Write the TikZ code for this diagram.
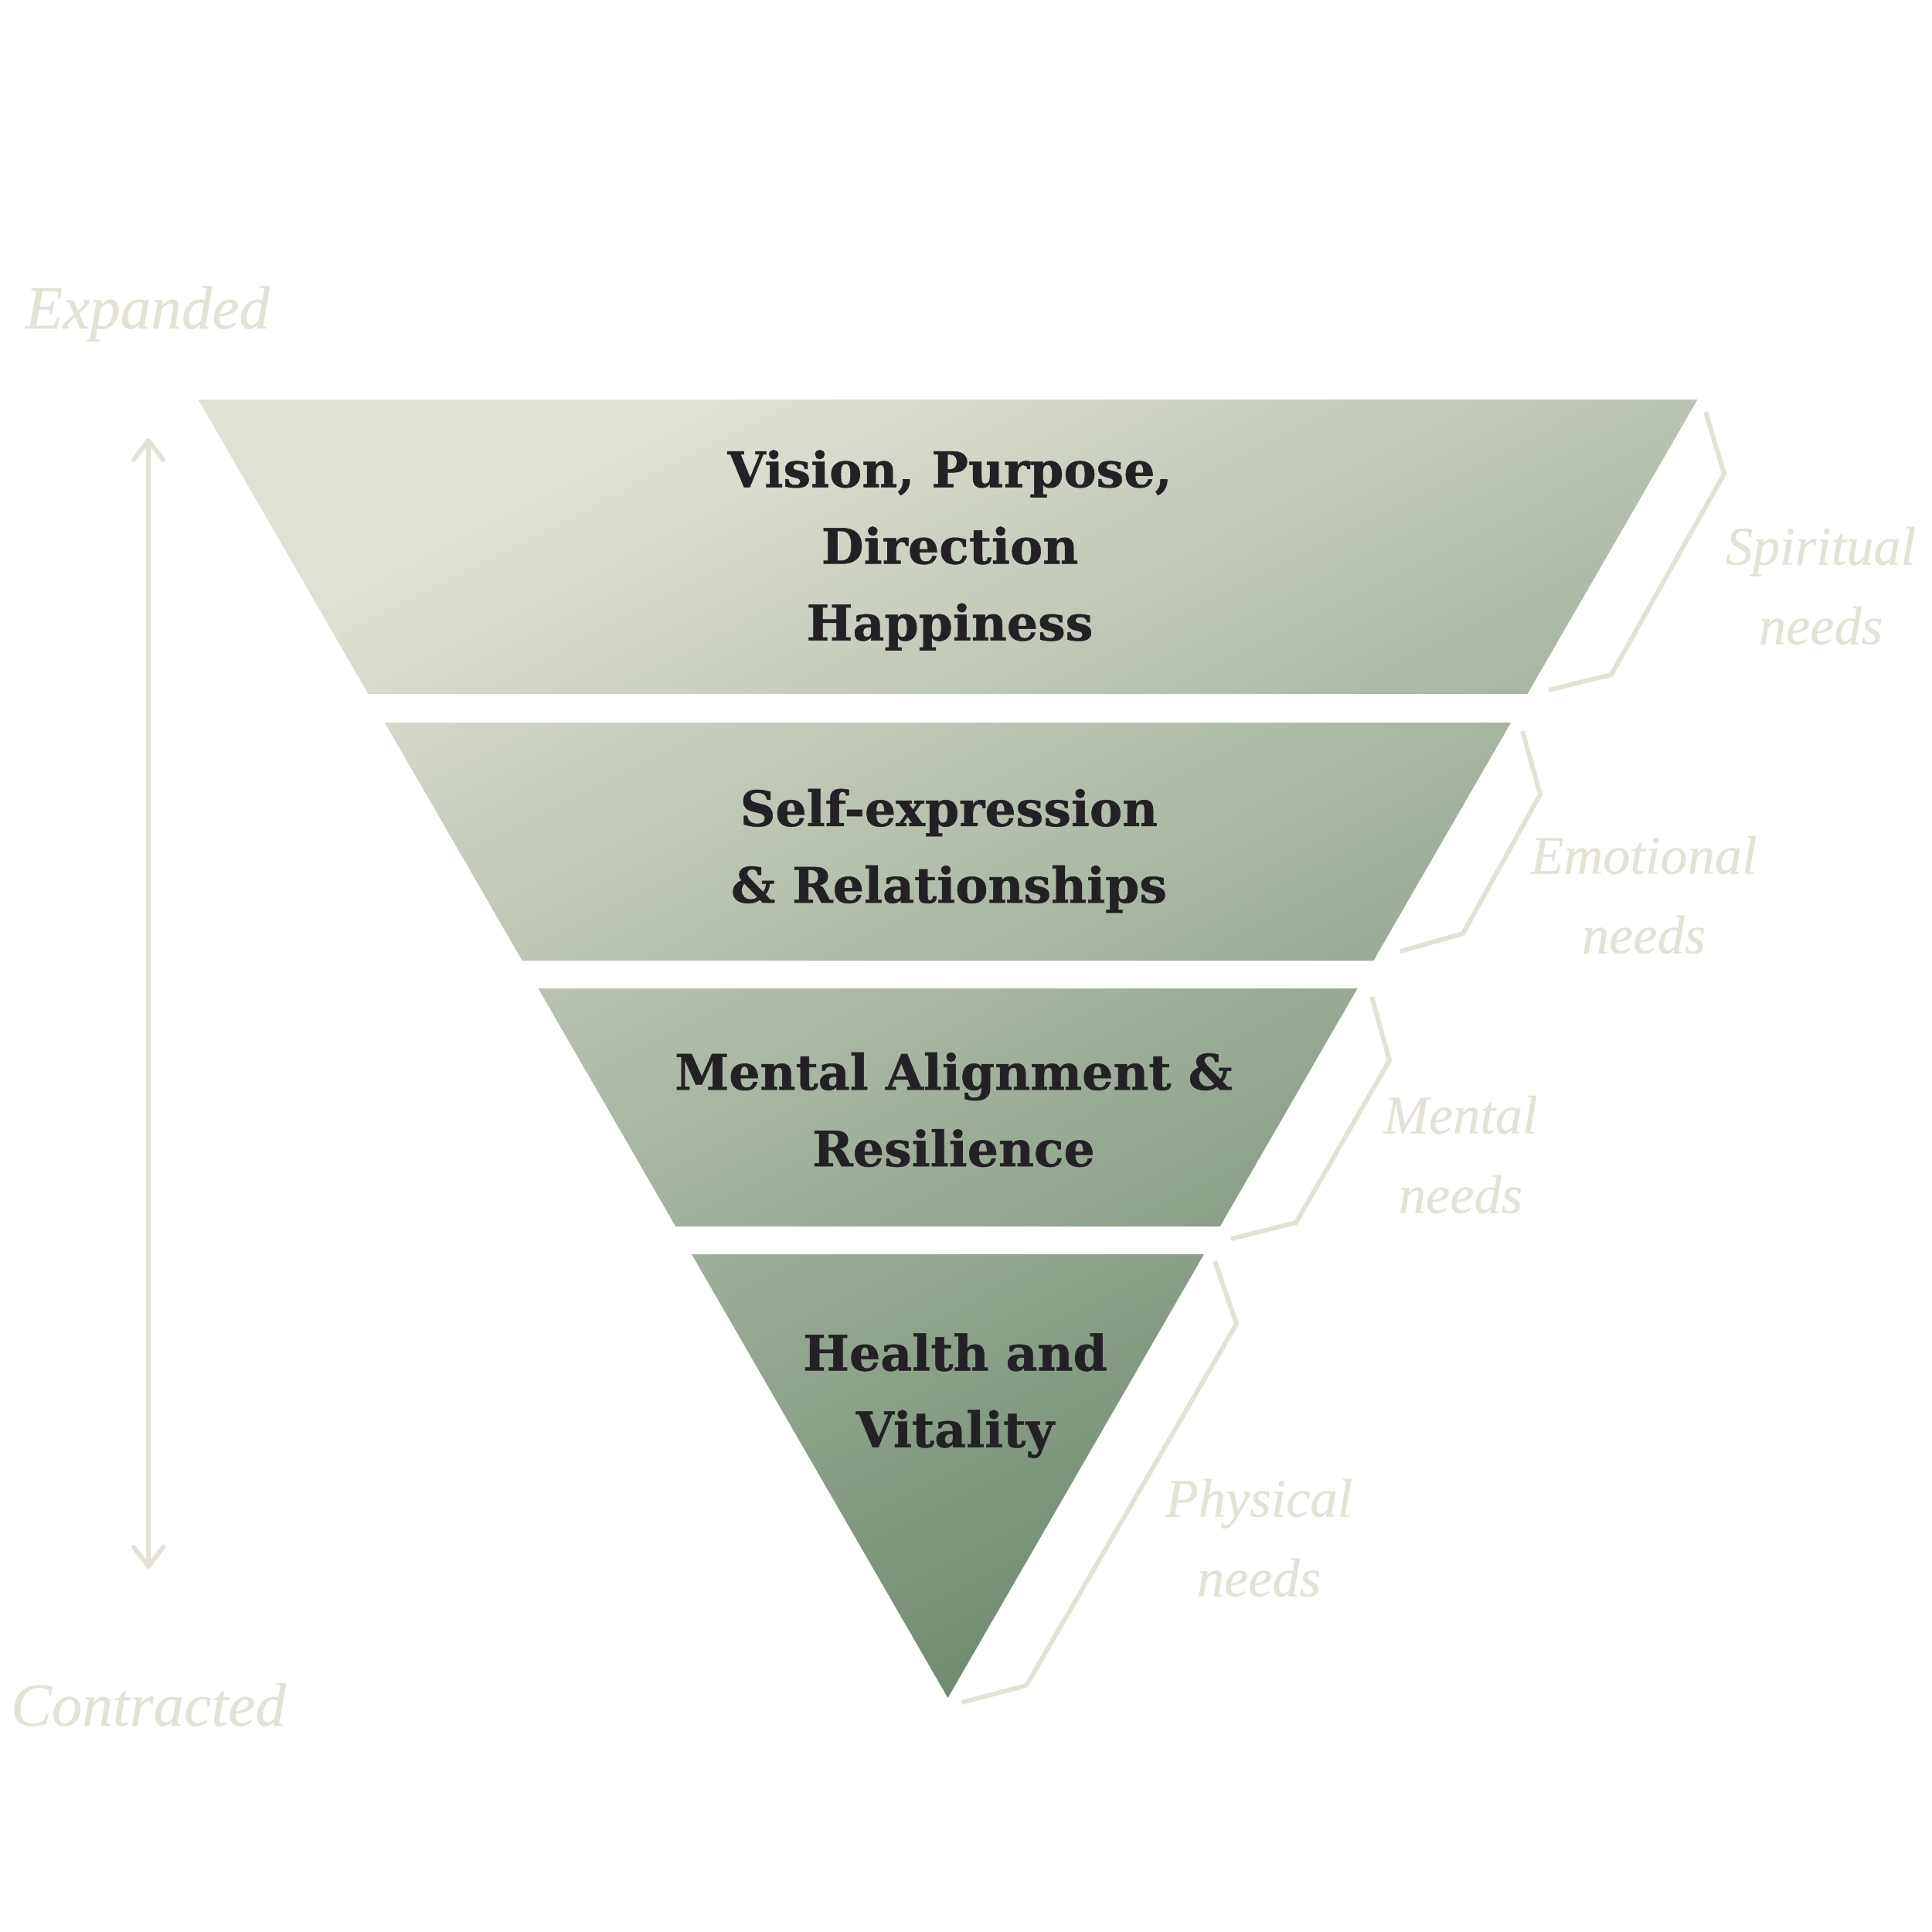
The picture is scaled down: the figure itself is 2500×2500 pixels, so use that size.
\documentclass[tikz,border=0pt]{standalone}
\usepackage{fontspec}
\setmainfont{DejaVu Serif}[BoldFeatures={FakeBold=0.8}]
\newfontfamily\needsfont{Liberation Serif}[ItalicFeatures={FakeBold=0.3}]
\usepackage{xcolor}
\definecolor{sand}{RGB}{228,226,212}
\definecolor{inkdark}{RGB}{36,33,38}
\definecolor{sagelight}{RGB}{224,225,212}
\definecolor{sagedark}{RGB}{104,132,106}
\usetikzlibrary{arrows.meta}

\begin{document}
\begin{tikzpicture}[x=0.1mm, y=-0.1mm,
        bandtext/.style={font=\fontsize{18}{28.2}\selectfont\bfseries, text=inkdark, align=center},
        needtext/.style={font=\needsfont\itshape\fontsize{20}{29.3}\selectfont, text=sand, align=center},
        axistext/.style={font=\needsfont\itshape\fontsize{22.5}{27}\selectfont, text=sand, anchor=base},
        bracket/.style={draw=sand, line width=1.7pt, line join=miter},
        axisline/.style={draw=sand, line width=1.7pt, {Straight Barb[length=2.5mm, width=3.8mm, round]}-{Straight Barb[length=2.5mm, width=3.8mm, round]}}]

    \fill[white] (0,0) rectangle (2500,2500);
    \useasboundingbox (0,0) rectangle (2500,2500);

    % the four bands of the funnel, one shading through all of them
    \begin{scope}
        \clip \foreach \yt/\yb [evaluate=\yt as \wt using 0.57735*(2197-\yt), evaluate=\yb as \wb using 0.57735*(2197-\yb)] in {517/898, 935/1243, 1279/1587, 1623/2197}
            { ({1226.5-\wt},\yt) -- ({1226.5+\wt},\yt) -- ({1226.5+\wb},\yb) -- ({1226.5-\wb},\yb) -- cycle };
        \shade[top color=sagelight, bottom color=sagedark, shading angle=27] (256,517) rectangle (2197,2197);
    \end{scope}

    \node [bandtext] (vision) at (1229,712) {Vision, Purpose,\\Direction\\Happiness};
    \node [bandtext] (selfexpr) at (1228,1101) {Self-expression\\\& Relationships};
    \node [bandtext] (alignment) at (1234,1436) {Mental Alignment \&\\Resilience};
    \node [bandtext] (health) at (1236,1806) {Health and\\Vitality};

    % brackets and needs on the right
    \draw [bracket] (2207,533) -- (2231,613) -- (2085,873) -- (2004,893);
    \draw [bracket] (1970,946) -- (1993,1028) -- (1893,1208) -- (1812,1231);
    \draw [bracket] (1775,1290) -- (1798,1372) -- (1677,1582) -- (1593,1603);
    \draw [bracket] (1572,1632) -- (1600,1713) -- (1328,2181) -- (1244,2203);

    \node [needtext] (spiritual) at (2356,758) {Spiritual\\needs};
    \node [needtext] (emotional) at (2127,1158) {Emotional\\needs};
    \node [needtext] (mentalneeds) at (1890,1494) {Mental\\needs};
    \node [needtext] (physical) at (1629,1990) {Physical\\needs};

    % axis on the left
    \coordinate (up) at (192,567);
    \coordinate (down) at (192,2030);
    \draw [axisline] (up) -- (down);
    \node [axistext] (expanded) at (191,425) {Expanded};
    \node [axistext] (contracted) at (192,2233) {Contracted};
\end{tikzpicture}
\end{document}
